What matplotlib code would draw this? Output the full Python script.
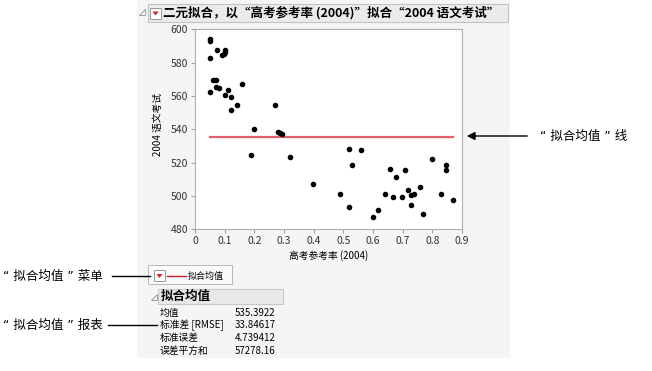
import numpy as np
import matplotlib
matplotlib.use("Agg")
import matplotlib.pyplot as plt
from matplotlib.patches import Rectangle, Polygon

plt.rcParams['font.family'] = ['Noto Sans CJK SC', 'DejaVu Sans']
NOTE_FONT = ['DejaVu Sans', 'Noto Sans CJK SC']

# 高考参考率 (2004) vs 2004 语文考试
pct_taking = [0.05, 0.05, 0.05, 0.05, 0.073, 0.101, 0.101, 0.09, 0.098,
              0.062, 0.071, 0.07, 0.081, 0.101, 0.11, 0.12, 0.12, 0.14, 0.159,
              0.20, 0.19, 0.269, 0.28, 0.286, 0.293, 0.32,
              0.52, 0.559, 0.53, 0.398, 0.488, 0.52, 0.60, 0.618, 0.639, 0.657,
              0.669, 0.678, 0.698, 0.708, 0.718, 0.728, 0.728, 0.738, 0.759,
              0.769, 0.798, 0.828, 0.847, 0.847, 0.868]
verbal = [594.2, 593.2, 582.6, 562.4, 587.4, 587.6, 586.6, 584.6, 585.4,
          569.4, 569.4, 565.6, 564.6, 560.4, 563.4, 559.4, 551.4, 554.4, 567.4,
          540.4, 524.4, 554.4, 538.4, 537.8, 537.2, 523.4,
          528.4, 527.4, 518.4, 507.4, 501.4, 493.4, 487.4, 491.4, 501.4, 516.4,
          499.4, 511.4, 499.4, 515.4, 503.4, 494.4, 500.4, 501.4, 505.4,
          489.4, 522.4, 501.4, 518.4, 515.4, 497.4]

x_ticks = [0, 0.1, 0.2, 0.3, 0.4, 0.5, 0.6, 0.7, 0.8, 0.9]
x_tick_labels = ["0", "0.1", "0.2", "0.3", "0.4", "0.5", "0.6", "0.7", "0.8", "0.9"]
y_ticks = [480, 500, 520, 540, 560, 580, 600]

title = "二元拟合，以“高考参考率 (2004)”拟合“2004 语文考试”"
stat_names = ["均值", "标准差 [RMSE]", "标准误差", "误差平方和"]
stat_values = ["535.3922", "33.84617", "4.739412", "57278.16"]

W, H = 652, 371
fig = plt.figure(figsize=(W / 100, H / 100), dpi=100)

# background layer in pixel coords
bg = fig.add_axes([0, 0, 1, 1], zorder=0)
bg.set_xlim(0, W)
bg.set_ylim(H, 0)
bg.axis('off')


def menu_icon(x, y):
    bg.add_patch(Rectangle((x, y), 11, 11, facecolor='white', edgecolor='#999999', lw=0.7))
    bg.add_patch(Polygon([(x + 2.5, y + 4), (x + 8.5, y + 4), (x + 5.5, y + 8)],
                         closed=True, facecolor='#d0202a', edgecolor='none'))


def disclosure(x, y):
    bg.add_patch(Polygon([(x, y + 3), (x + 6, y + 3), (x + 6, y - 3)], closed=True,
                         facecolor='white', edgecolor='#909090', lw=0.6))


bg.add_patch(Rectangle((137, 0), 373, 358, facecolor='#f5f5f5', edgecolor='none'))

# title bar
disclosure(139, 12)
bg.add_patch(Rectangle((148, 4), 360, 18, facecolor='#ebebeb', edgecolor='#c4c4c4', lw=0.8))
menu_icon(150, 7.5)
bg.text(163, 13, title, fontsize=9, fontweight='bold', va='center', ha='left')

# scatter plot
ax = fig.add_axes([195 / W, (H - 229.3) / H, 267 / W, 200 / H], zorder=2)
ax.set_facecolor('white')
ax.scatter(pct_taking, verbal, s=9, color='black', zorder=3)
mean_y = np.mean(verbal)
ax.plot([min(pct_taking), max(pct_taking)], [mean_y, mean_y], color='#e0606e', lw=1.6, zorder=2)
ax.set_xlim(0, 0.9)
ax.set_ylim(480, 600)
ax.set_xticks(x_ticks)
ax.set_xticklabels(x_tick_labels)
ax.set_yticks(y_ticks)
for s in ax.spines.values():
    s.set_color('#b0b0b0')
    s.set_linewidth(0.8)
ax.tick_params(length=3, width=0.8, color='#a0a0a0', labelsize=7.5, labelcolor='#333333', pad=2)
ax.set_xlabel("高考参考率 (2004)", fontsize=7, labelpad=3)
bg.text(158, 124, "2004 语文考试", fontsize=7, rotation=90, ha='center', va='center')

# right annotation
bg.annotate('', xy=(464, 136), xytext=(530, 136),
            arrowprops=dict(arrowstyle='-|>', color='black', lw=1, mutation_scale=12))
bg.text(540, 136, "“ 拟合均值 ” 线", fontsize=9, va='center', ha='left', family=NOTE_FONT)

# legend / menu row
bg.add_patch(Rectangle((148, 265), 84, 19, facecolor='#fafafa', edgecolor='#b8b8b8', lw=0.7))
menu_icon(154, 270)
bg.plot([167, 186], [276, 276], color='#d0202a', lw=1)
bg.text(188, 276, "拟合均值", fontsize=6.5, va='center', ha='left')

# report
disclosure(151, 297)
bg.add_patch(Rectangle((158, 289), 125, 15, facecolor='#e8e8e8', edgecolor='#c8c8c8', lw=0.8))
bg.text(161, 296.5, "拟合均值", fontsize=9, fontweight='bold', va='center', ha='left')
row_y = [312.5, 325.5, 338, 350.5]
for name, val, yy in zip(stat_names, stat_values, row_y):
    bg.text(160, yy, name, fontsize=7, va='center', ha='left')
    bg.text(235, yy, val, fontsize=7, va='center', ha='left')

# left annotations
bg.text(3, 276, "“ 拟合均值 ” 菜单", fontsize=9, va='center', ha='left', family=NOTE_FONT)
bg.plot([112, 150], [276, 276], color='black', lw=1)
bg.text(3, 325, "“ 拟合均值 ” 报表", fontsize=9, va='center', ha='left', family=NOTE_FONT)
bg.plot([108, 157], [325, 325], color='black', lw=1)

fig.savefig("out.png", dpi=100)
